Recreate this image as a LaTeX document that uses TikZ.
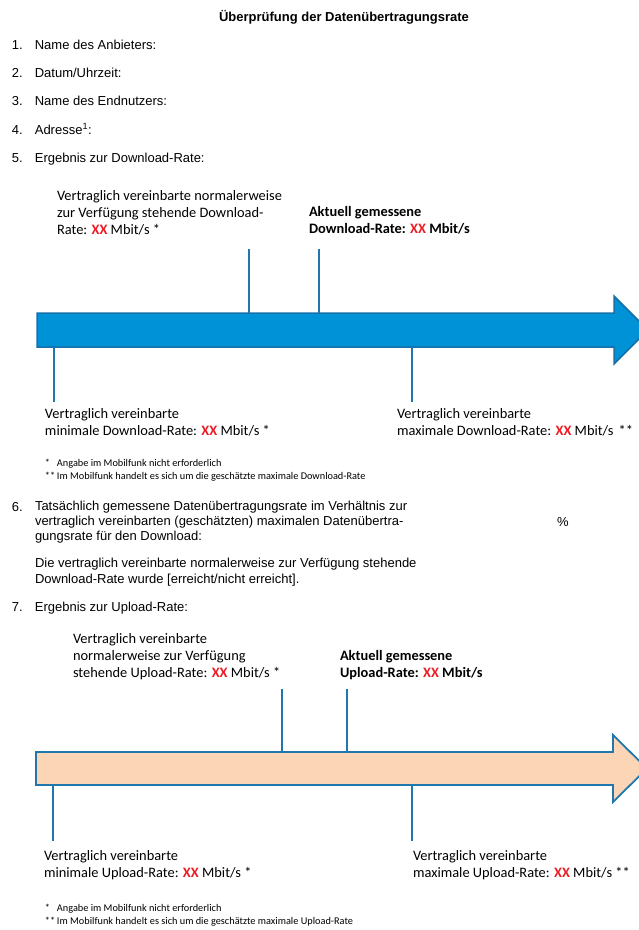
\documentclass[tikz,border=0pt]{standalone}
\usepackage{fontspec}
\setmainfont{Liberation Sans}
\newfontfamily\calibri{Carlito}
\usetikzlibrary{positioning}
\definecolor{tickblue}{RGB}{31,119,174}
\definecolor{dlblue}{RGB}{0,146,214}
\definecolor{dlborder}{RGB}{22,112,170}
\definecolor{ulpeach}{RGB}{251,213,181}
\definecolor{xxred}{RGB}{237,28,36}
\newcommand{\xxval}{\textcolor{xxred}{\textbf{XX}}}

\begin{document}
\begin{tikzpicture}[
    x=1pt, y=-1pt,
    every node/.style={inner sep=0pt, outer sep=0pt, anchor=base west},
    titletext/.style={font=\bfseries\fontsize{13}{15}\selectfont},
    itemtext/.style={font=\fontsize{13}{15}\selectfont},
    blocktext/.style={anchor=north west, align=left, font=\fontsize{13}{15}\selectfont},
    ratelabel/.style={anchor=north west, align=left, font=\calibri\fontsize{14.4}{17}\selectfont},
    fntext/.style={font=\calibri\fontsize{10.3}{12}\selectfont},
    dlarrow/.style={fill=dlblue, draw=dlborder, line width=1.5pt, line join=miter},
    ularrow/.style={fill=ulpeach, draw=tickblue, line width=1.8pt, line join=miter},
    tick/.style={draw=tickblue, line width=1.8pt},
    ticknow/.style={draw=tickblue, line width=2.6pt}
]
\useasboundingbox (0,0) rectangle (639,930);

\node[titletext, anchor=base] (title) at (344,21) {Überprüfung der Datenübertragungsrate};

\node[itemtext] (n1) at (12,49) {1.};
\node[itemtext, base right=12pt of n1] (it1) {Name des Anbieters:};
\node[itemtext] (n2) at (12,77) {2.};
\node[itemtext, base right=12pt of n2] (it2) {Datum/Uhrzeit:};
\node[itemtext] (n3) at (12,105) {3.};
\node[itemtext, base right=12pt of n3] (it3) {Name des Endnutzers:};
\node[itemtext] (n4) at (12,134) {4.};
\node[itemtext, base right=12pt of n4] (it4) {Adresse\textsuperscript{1}:};
\node[itemtext] (n5) at (12,162) {5.};
\node[itemtext, base right=12pt of n5] (it5) {Ergebnis zur Download-Rate:};

\node[ratelabel] (dlnorm) at (57,190) {Vertraglich vereinbarte normalerweise\\zur Verfügung stehende Download-\\Rate: \xxval{} Mbit/s *};
\node[ratelabel, font=\calibri\bfseries\fontsize{14.4}{17}\selectfont] (dlakt) at (309,206) {Aktuell gemessene\\Download-Rate: \xxval{} Mbit/s};

\draw[dlarrow] (37,313) -- (614,313) -- (614,296) -- (648,330) -- (614,364) -- (614,347) -- (37,347) -- cycle;
\coordinate (dlnormtop) at (249,249);
\coordinate (dlnormbot) at (249,313);
\coordinate (dlakttop) at (319,249);
\coordinate (dlaktbot) at (319,313);
\coordinate (dlmintop) at (54,347);
\coordinate (dlminbot) at (54,402);
\coordinate (dlmaxtop) at (412,347);
\coordinate (dlmaxbot) at (412,402);
\draw[tick] (dlnormtop) -- (dlnormbot);
\draw[ticknow] (dlakttop) -- (dlaktbot);
\draw[tick] (dlmintop) -- (dlminbot);
\draw[tick] (dlmaxtop) -- (dlmaxbot);

\node[ratelabel] (dlmin) at (45,408) {Vertraglich vereinbarte\\minimale Download-Rate: \xxval{} Mbit/s *};
\node[ratelabel] (dlmax) at (397,408) {Vertraglich vereinbarte\\maximale Download-Rate: \xxval{} Mbit/s\hspace{5pt}**};

\node[fntext] (dlfn1) at (45,466) {\makebox[12pt][l]{*}Angabe im Mobilfunk nicht erforderlich};
\node[fntext] (dlfn2) at (45,479) {\makebox[12pt][l]{**}Im Mobilfunk handelt es sich um die geschätzte maximale Download-Rate};

\node[itemtext] (n6) at (12,511) {6.};
\node[blocktext] (it6) at (35,501) {Tatsächlich gemessene Datenübertragungsrate im Verhältnis zur\\vertraglich vereinbarten (geschätzten) maximalen Datenübertra-\\gungsrate für den Download:};
\node[itemtext] (perc) at (557,526) {\%};
\node[blocktext, font=\fontsize{13}{16}\selectfont] (satz) at (35,558) {Die vertraglich vereinbarte normalerweise zur Verfügung stehende\\Download-Rate wurde [erreicht/nicht erreicht].};

\node[itemtext] (n7) at (12,611) {7.};
\node[itemtext, base right=12pt of n7] (it7) {Ergebnis zur Upload-Rate:};

\node[ratelabel] (ulnorm) at (73,633) {Vertraglich vereinbarte\\normalerweise zur Verfügung\\stehende Upload-Rate: \xxval{} Mbit/s *};
\node[ratelabel, font=\calibri\bfseries\fontsize{14.4}{17}\selectfont] (ulakt) at (340,650) {Aktuell gemessene\\Upload-Rate: \xxval{} Mbit/s};

\draw[ularrow] (36,752) -- (613,752) -- (613,735) -- (647,768.5) -- (613,802) -- (613,785) -- (36,785) -- cycle;
\coordinate (ulnormtop) at (282,689);
\coordinate (ulnormbot) at (282,752);
\coordinate (ulakttop) at (347,689);
\coordinate (ulaktbot) at (347,752);
\coordinate (ulmintop) at (53,785);
\coordinate (ulminbot) at (53,841);
\coordinate (ulmaxtop) at (412,785);
\coordinate (ulmaxbot) at (412,841);
\draw[tick] (ulnormtop) -- (ulnormbot);
\draw[tick] (ulakttop) -- (ulaktbot);
\draw[tick] (ulmintop) -- (ulminbot);
\draw[tick] (ulmaxtop) -- (ulmaxbot);

\node[ratelabel] (ulmin) at (44,850) {Vertraglich vereinbarte\\minimale Upload-Rate: \xxval{} Mbit/s *};
\node[ratelabel] (ulmax) at (413,850) {Vertraglich vereinbarte\\maximale Upload-Rate: \xxval{} Mbit/s **};

\node[fntext] (ulfn1) at (45,911) {\makebox[12pt][l]{*}Angabe im Mobilfunk nicht erforderlich};
\node[fntext] (ulfn2) at (45,924) {\makebox[12pt][l]{**}Im Mobilfunk handelt es sich um die geschätzte maximale Upload-Rate};
\end{tikzpicture}
\end{document}
